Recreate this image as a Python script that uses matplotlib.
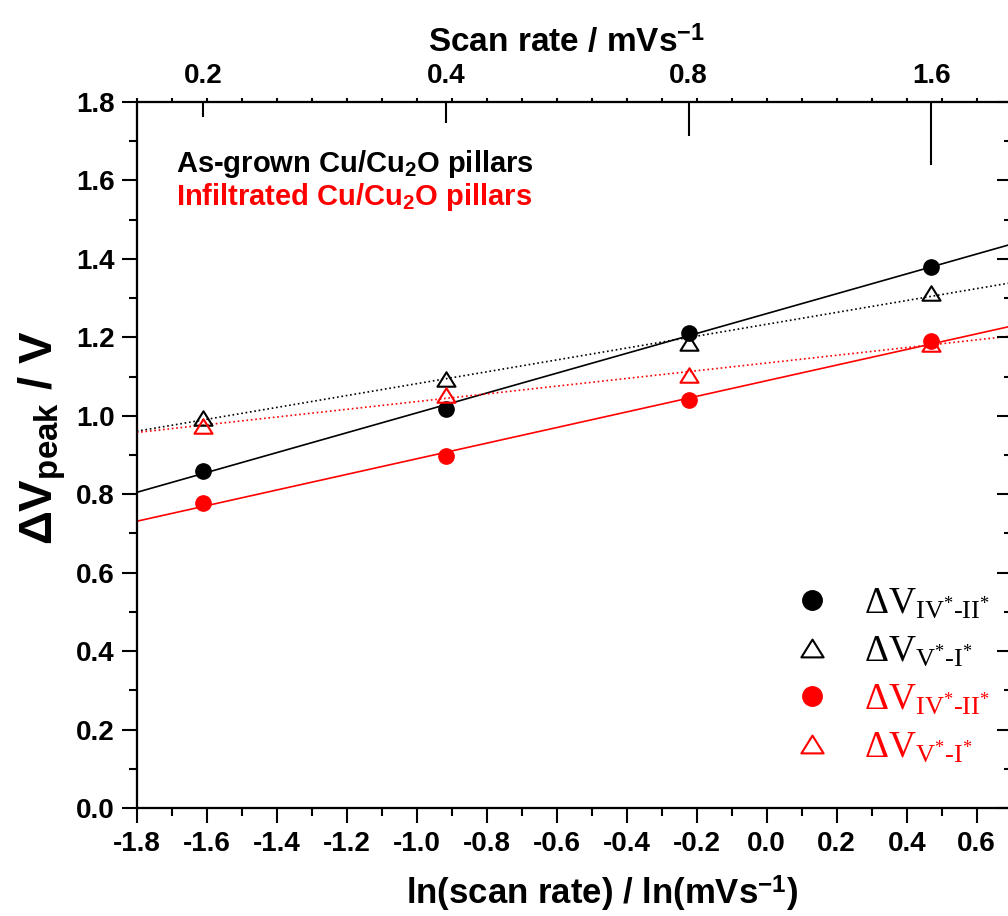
import numpy as np
import matplotlib
matplotlib.use('Agg')
import matplotlib.pyplot as plt
from matplotlib.lines import Line2D
from matplotlib.path import Path
from matplotlib.ticker import MultipleLocator, FuncFormatter

# ---------------- data ----------------
scan_rates = [0.2, 0.4, 0.8, 1.6]            # mV/s
top_tick_labels = ['0.2', '0.4', '0.8', '1.6']
asgrown_IV_II = [0.858, 1.018, 1.210, 1.379]
asgrown_V_I = [0.994, 1.095, 1.185, 1.314]
infil_IV_II = [0.777, 0.898, 1.039, 1.190]
infil_V_I = [0.973, 1.054, 1.103, 1.184]

legend_labels = [r'$\mathrm{\Delta V}_{\mathrm{IV^{*}\text{-}II^{*}}}$',
                 r'$\mathrm{\Delta V}_{\mathrm{V^{*}\text{-}I^{*}}}$',
                 r'$\mathrm{\Delta V}_{\mathrm{IV^{*}\text{-}II^{*}}}$',
                 r'$\mathrm{\Delta V}_{\mathrm{V^{*}\text{-}I^{*}}}$']

x = np.log(scan_rates)

plt.rcParams.update({
    'font.family': ['Liberation Sans', 'DejaVu Sans'],
    'font.weight': 'bold',
    'axes.labelweight': 'bold',
    'mathtext.fontset': 'custom',
    'mathtext.rm': 'Liberation Serif:weight=normal',
    'mathtext.it': 'Liberation Serif:italic:weight=normal',
    'mathtext.bf': 'Liberation Sans:bold',
    'mathtext.sf': 'Liberation Sans',
    'axes.unicode_minus': False,
})

W, H = 1008, 916
fig = plt.figure(figsize=(W / 100, H / 100), dpi=100)
ax = fig.add_axes([136.7 / W, 1 - 808 / H, 875 / W, 706 / H])
ax.set_xlim(-1.8, 0.7)
ax.set_ylim(0, 1.8)

tri = Path([(-1, -0.8), (1, -0.8), (0, 0.8), (-1, -0.8)],
           [Path.MOVETO, Path.LINETO, Path.LINETO, Path.CLOSEPOLY])

series = [
    (asgrown_IV_II, 'black', 'o', '-'),
    (asgrown_V_I, 'black', tri, ':'),
    (infil_IV_II, 'red', 'o', '-'),
    (infil_V_I, 'red', tri, ':'),
]
xx = np.array(ax.get_xlim())
for y, c, m, ls in series:
    fit = np.polyfit(x, y, 1)
    ax.plot(xx, np.polyval(fit, xx), ls=ls, color=c, lw=1.2, zorder=2)
for y, c, m, ls in series:
    if m == 'o':
        ax.plot(x, y, ls='none', marker='o', ms=11, color=c, mec=c, zorder=3)
    else:
        ax.plot(x, y, ls='none', marker=m, ms=13, mfc='none', mec=c, mew=1.5, zorder=3)

# ticks
fmt = FuncFormatter(lambda v, p: f'{round(v, 1) + 0.0:.1f}')
ax.xaxis.set_major_locator(MultipleLocator(0.2))
ax.xaxis.set_minor_locator(MultipleLocator(0.1))
ax.yaxis.set_major_locator(MultipleLocator(0.2))
ax.yaxis.set_minor_locator(MultipleLocator(0.1))
ax.xaxis.set_major_formatter(fmt)
ax.yaxis.set_major_formatter(fmt)
ax.tick_params(which='major', direction='out', length=10.8, width=1.5, labelsize=20)
ax.tick_params(which='minor', direction='out', length=5.8, width=1.5)
ax.tick_params(axis='x', which='major', pad=6)
ax.tick_params(axis='y', which='major', pad=5)
for s in ax.spines.values():
    s.set_linewidth(1.5)

# right ticks (inward)
axr = ax.twinx()
axr.set_ylim(ax.get_ylim())
axr.yaxis.set_major_locator(MultipleLocator(0.2))
axr.yaxis.set_minor_locator(MultipleLocator(0.1))
axr.tick_params(which='major', direction='in', length=10.8, width=1.5, labelright=False)
axr.tick_params(which='minor', direction='in', length=5.8, width=1.5)

# top small ticks (outward)
axt = ax.twiny()
axt.set_xlim(ax.get_xlim())
axt.xaxis.set_major_locator(MultipleLocator(0.1))
axt.tick_params(which='major', direction='out', length=3, width=1.5, labeltop=False)
for a in (axr, axt):
    for s in a.spines.values():
        s.set_linewidth(1.5)

# top scan-rate axis
sec = ax.secondary_xaxis('top')
sec.set_xticks(x, top_tick_labels)
sec.tick_params(length=0, pad=9, labelsize=20)
sec.spines['top'].set_visible(False)
sec.set_xlabel(r'Scan rate / mVs$^{\mathbf{-1}}$', fontsize=24, labelpad=8)
sec.xaxis.label.set_x(0.491)
mark_len_px = [14.5, 21, 34, 63]
ax.vlines(x, [1 - m / 706 for m in mark_len_px], 1, transform=ax.get_xaxis_transform(),
          color='black', lw=1.5, clip_on=False)

ax.set_xlabel(r'ln(scan rate) / ln(mVs$^{\mathbf{-1}}$)', fontsize=25, labelpad=12)
ax.xaxis.label.set_x(0.532)
ax.set_ylabel(r'$\mathbf{\Delta V}_{\mathbf{peak}}$ / V', fontsize=34, labelpad=6)
ax.yaxis.label.set_y(0.525)

ax.text(0.045, 0.901, r'As-grown Cu/Cu$_{\mathbf{2}}$O pillars', transform=ax.transAxes,
        fontsize=21, va='baseline', color='black')
ax.text(0.045, 0.854, r'Infiltrated Cu/Cu$_{\mathbf{2}}$O pillars', transform=ax.transAxes,
        fontsize=21, va='baseline', color='red')

handles = [
    Line2D([], [], ls='none', marker='o', ms=14, color='black'),
    Line2D([], [], ls='none', marker=tri, ms=16, mfc='none', mec='black', mew=1.5),
    Line2D([], [], ls='none', marker='o', ms=14, color='red'),
    Line2D([], [], ls='none', marker=tri, ms=16, mfc='none', mec='red', mew=1.5),
]
leg = ax.legend(handles, legend_labels, loc='upper left', bbox_to_anchor=(0.752, 0.314),
                frameon=False, prop={'family': 'Liberation Serif', 'size': 27, 'weight': 'normal'},
                handlelength=0.93, handletextpad=0.93, labelspacing=0.36, borderpad=0,
                borderaxespad=0, labelcolor=['black', 'black', 'red', 'red'])

fig.savefig('out.png', dpi=100)
